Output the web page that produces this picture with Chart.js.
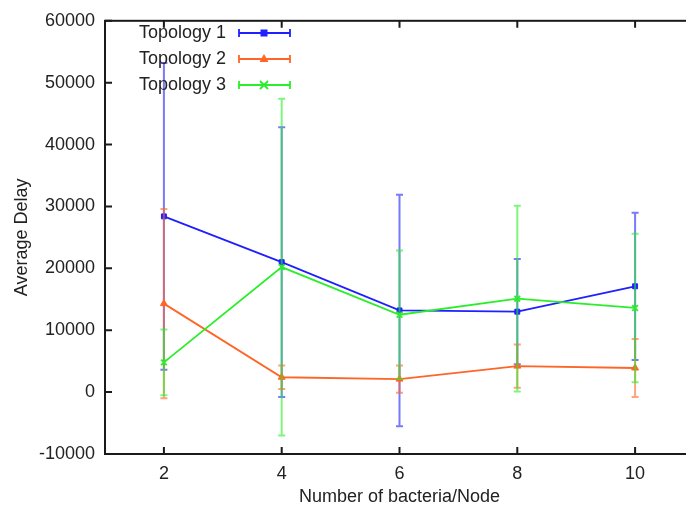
<!DOCTYPE html>
<html lang="en">
<head>
    <meta charset="UTF-8">
    <title>Average Delay vs Number of bacteria/Node</title>
    <script src="https://cdn.jsdelivr.net/npm/chart.js"></script>
    <style>
        body {
            margin: 0;
            background: #ffffff;
            overflow: hidden;
        }
        #wrap {
            width: 700px;
            height: 512px;
        }
    </style>
</head>
<body>
    <div id="wrap">
        <canvas id="delayChart" width="700" height="512"></canvas>
    </div>

    <script>
        // Data
        const nodes = [2, 4, 6, 8, 10];
        const yTicks = [-10000, 0, 10000, 20000, 30000, 40000, 50000, 60000];

        const topo1Mean = [28400, 21000, 13200, 13000, 17100];
        const topo1Err  = [24800, 21800, 18700, 8500, 11900];

        const topo2Mean = [14300, 2400, 2100, 4200, 3900];
        const topo2Err  = [15300, 1900, 2200, 3500, 4700];

        const topo3Mean = [4800, 20200, 12500, 15100, 13600];
        const topo3Err  = [5300, 27200, 10400, 15000, 12000];

        const FONT = '"Liberation Sans", Arial, sans-serif';
        const FRAME = '#1a1a1a';

        const series = [
            { label: 'Topology 1', mean: topo1Mean, err: topo1Err, color: '#1f1fff', bar: 'rgba(31,31,255,0.6)', style: 'rect', radius: 3.5, order: 3 },
            { label: 'Topology 2', mean: topo2Mean, err: topo2Err, color: '#ff6526', bar: 'rgba(255,101,38,0.6)', style: 'triangle', radius: 4, order: 2 },
            { label: 'Topology 3', mean: topo3Mean, err: topo3Err, color: '#2aee2a', bar: 'rgba(42,238,42,0.6)', style: 'crossRot', radius: 4, order: 1 }
        ];

        function drawMarker(ctx, style, color, r, x, y) {
            ctx.save();
            ctx.fillStyle = color;
            ctx.strokeStyle = color;
            ctx.lineWidth = 1.8;
            ctx.beginPath();
            if (style === 'rect') {
                ctx.fillRect(x - r, y - r, 2 * r, 2 * r);
            } else if (style === 'triangle') {
                ctx.moveTo(x, y - r - 1);
                ctx.lineTo(x + r + 0.5, y + r - 1);
                ctx.lineTo(x - r - 0.5, y + r - 1);
                ctx.closePath();
                ctx.fill();
            } else {
                ctx.moveTo(x - r, y - r); ctx.lineTo(x + r, y + r);
                ctx.moveTo(x + r, y - r); ctx.lineTo(x - r, y + r);
                ctx.stroke();
            }
            ctx.restore();
        }

        // error bars for each series, drawn just before that series' line
        const errorBars = {
            id: 'errorBars',
            beforeDatasetDraw(chart, args) {
                const s = series[args.index];
                const xs = chart.scales.x, ys = chart.scales.y;
                const ctx = chart.ctx;
                ctx.save();
                ctx.strokeStyle = s.bar;
                ctx.lineWidth = 2;
                s.mean.forEach((m, i) => {
                    const x = xs.getPixelForValue(nodes[i]);
                    const yTop = ys.getPixelForValue(m + s.err[i]);
                    const yBot = ys.getPixelForValue(m - s.err[i]);
                    ctx.beginPath();
                    ctx.moveTo(x, yTop); ctx.lineTo(x, yBot);
                    ctx.moveTo(x - 3.5, yTop); ctx.lineTo(x + 3.5, yTop);
                    ctx.moveTo(x - 3.5, yBot); ctx.lineTo(x + 3.5, yBot);
                    ctx.stroke();
                });
                ctx.restore();
            }
        };

        // gnuplot style frame with inward ticks
        const frame = {
            id: 'frame',
            afterDatasetsDraw(chart) {
                const { ctx, chartArea: a } = chart;
                const xs = chart.scales.x, ys = chart.scales.y;
                const t = 7;
                ctx.save();
                ctx.strokeStyle = FRAME;
                ctx.lineWidth = 2;
                ctx.strokeRect(a.left, a.top, a.right - a.left, a.bottom - a.top);
                ctx.beginPath();
                nodes.forEach(v => {
                    const x = xs.getPixelForValue(v);
                    ctx.moveTo(x, a.bottom); ctx.lineTo(x, a.bottom - t);
                    ctx.moveTo(x, a.top); ctx.lineTo(x, a.top + t);
                });
                yTicks.forEach(v => {
                    const y = ys.getPixelForValue(v);
                    ctx.moveTo(a.left, y); ctx.lineTo(a.left + t, y);
                    ctx.moveTo(a.right, y); ctx.lineTo(a.right - t, y);
                });
                ctx.stroke();
                ctx.restore();
            }
        };

        const legend = {
            id: 'gpLegend',
            afterDraw(chart) {
                const ctx = chart.ctx;
                series.forEach((s, i) => {
                    const y = 33 + i * 26;
                    ctx.save();
                    ctx.font = '18px ' + FONT;
                    ctx.fillStyle = '#222';
                    ctx.textAlign = 'right';
                    ctx.textBaseline = 'middle';
                    ctx.fillText(s.label, 226, y);
                    ctx.strokeStyle = s.color;
                    ctx.lineWidth = 1.8;
                    ctx.beginPath();
                    ctx.moveTo(239, y); ctx.lineTo(290, y);
                    ctx.moveTo(239, y - 4); ctx.lineTo(239, y + 4);
                    ctx.moveTo(290, y - 4); ctx.lineTo(290, y + 4);
                    ctx.stroke();
                    ctx.restore();
                    drawMarker(ctx, s.style, s.color, s.radius, 264, y);
                });
            }
        };

        const ctx = document.getElementById('delayChart').getContext('2d');
        const delayChart = new Chart(ctx, {
            type: 'line',
            data: {
                datasets: series.map(s => ({
                    label: s.label,
                    data: nodes.map((n, i) => ({ x: n, y: s.mean[i] })),
                    borderColor: s.color,
                    backgroundColor: s.color,
                    borderWidth: 1.8,
                    pointStyle: s.style,
                    pointRadius: s.radius,
                    pointBorderWidth: s.style === 'crossRot' ? 1.8 : 1,
                    tension: 0,
                    fill: false,
                    order: s.order
                }))
            },
            options: {
                responsive: false,
                animation: false,
                layout: { padding: { left: 0, top: 17, right: 6, bottom: 0 } },
                plugins: {
                    legend: { display: false },
                    tooltip: { enabled: false }
                },
                scales: {
                    x: {
                        type: 'linear',
                        min: 1,
                        max: 11,
                        afterBuildTicks: scale => { scale.ticks = nodes.map(v => ({ value: v })); },
                        afterFit: scale => { scale.height = 58; },
                        grid: { display: false, drawTicks: false },
                        border: { display: false },
                        ticks: {
                            color: '#222',
                            padding: 9,
                            maxRotation: 0,
                            font: { family: FONT, size: 18 }
                        },
                        title: {
                            display: true,
                            text: 'Number of bacteria/Node',
                            color: '#222',
                            padding: { top: 0, bottom: 4 },
                            font: { family: FONT, size: 18 }
                        }
                    },
                    y: {
                        min: -10000,
                        max: 60000,
                        afterBuildTicks: scale => { scale.ticks = yTicks.map(v => ({ value: v })); },
                        afterFit: scale => { scale.width = 105; },
                        grid: { display: false, drawTicks: false },
                        border: { display: false },
                        ticks: {
                            color: '#222',
                            padding: 10,
                            callback: v => String(v),
                            font: { family: FONT, size: 18 }
                        },
                        title: {
                            display: true,
                            text: 'Average Delay',
                            color: '#222',
                            padding: { top: 11, bottom: 0 },
                            font: { family: FONT, size: 18 }
                        }
                    }
                }
            },
            plugins: [errorBars, frame, legend]
        });
    </script>
</body>
</html>
